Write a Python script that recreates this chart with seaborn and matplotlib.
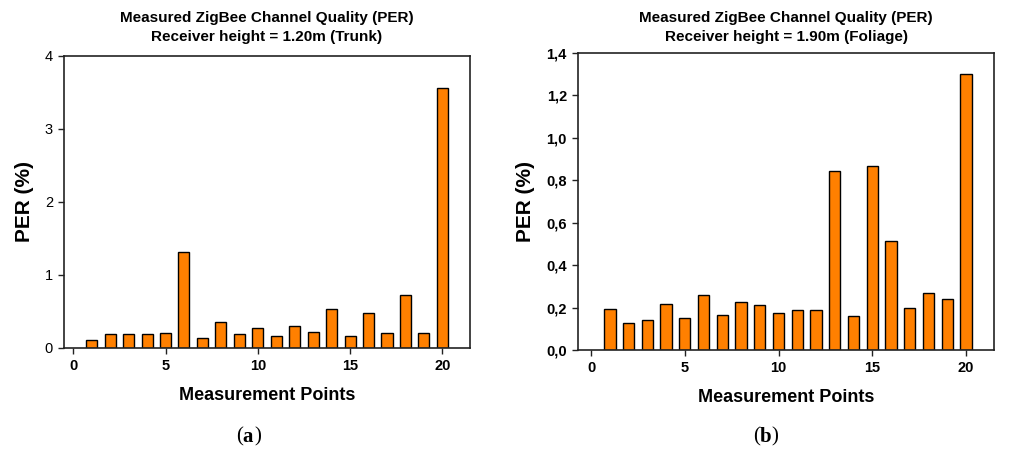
import matplotlib
matplotlib.use("Agg")
import matplotlib.pyplot as plt
import seaborn as sns
import pandas as pd
from matplotlib.ticker import FuncFormatter

points = list(range(1, 21))
per_trunk = [0.105, 0.187, 0.196, 0.187, 0.205, 1.317, 0.141, 0.351, 0.187, 0.269,
             0.164, 0.300, 0.219, 0.528, 0.164, 0.483, 0.205, 0.729, 0.205, 3.558]
per_foliage = [0.192, 0.129, 0.142, 0.219, 0.149, 0.258, 0.165, 0.228, 0.212, 0.173,
               0.187, 0.187, 0.846, 0.160, 0.865, 0.514, 0.198, 0.267, 0.241, 1.302]
titles = ["Measured ZigBee Channel Quality (PER)\nReceiver height = 1.20m (Trunk)",
          "Measured ZigBee Channel Quality (PER)\nReceiver height = 1.90m (Foliage)"]
captions = ["a", "b"]
x_ticks = [0, 5, 10, 15, 20]
y_ticks_a = [0, 1, 2, 3, 4]
y_ticks_b = [0.0, 0.2, 0.4, 0.6, 0.8, 1.0, 1.2, 1.4]

sns.set_style("white")
plt.rcParams['font.family'] = ['Liberation Sans', 'DejaVu Sans']
plt.rcParams['text.color'] = 'black'
plt.rcParams['axes.labelcolor'] = 'black'
plt.rcParams['xtick.color'] = 'black'
plt.rcParams['ytick.color'] = 'black'

fig = plt.figure(figsize=(10.24, 4.53), dpi=100)
ax1 = fig.add_axes([0.0625, 0.2318, 0.3965, 0.6446])
ax2 = fig.add_axes([0.5645, 0.2274, 0.4062, 0.6556])

df_a = pd.DataFrame({"point": points, "per": per_trunk})
df_b = pd.DataFrame({"point": points, "per": per_foliage})

for ax, df, title, yt, xl, bold_y, tpad in [
        (ax1, df_a, titles[0], y_ticks_a, (-0.5, 21.5), False, 11),
        (ax2, df_b, titles[1], y_ticks_b, (-0.7, 21.5), True, 9)]:
    sns.barplot(data=df, x="point", y="per", native_scale=True, width=0.6,
                color="#FF8000", saturation=1, edgecolor="black", linewidth=1.0, ax=ax)
    ax.set_xlim(*xl)
    ax.set_ylim(yt[0], yt[-1])
    ax.set_xticks(x_ticks)
    ax.set_yticks(yt)
    ax.set_title(title, fontsize=11, fontweight="bold", pad=tpad, linespacing=1.4,
                 color="black")
    ax.set_xlabel("Measurement Points", fontsize=13, fontweight="bold", labelpad=10)
    ax.set_ylabel("PER (%)", fontsize=15, fontweight="bold", labelpad=8)
    ax.tick_params(axis="both", direction="out", length=4, width=1, color="#222222",
                   labelsize=10.5, bottom=True, left=True, pad=4, labelcolor="black")
    for lab in ax.get_xticklabels():
        lab.set_fontweight("bold")
    for lab in ax.get_yticklabels():
        lab.set_fontweight("bold" if bold_y else "normal")
    for s in ax.spines.values():
        s.set_visible(True)
        s.set_color("#222222")
        s.set_linewidth(1.2)

ax2.yaxis.set_major_formatter(FuncFormatter(lambda v, p: f"{v:.1f}".replace(".", ",")))
for lab in ax2.get_yticklabels():
    lab.set_fontweight("bold")

for xc, cap in [(0.237, captions[0]), (0.742, captions[1])]:
    fig.text(xc, 0.025, "(", fontsize=15, family="Liberation Serif", ha="right", va="baseline")
    fig.text(xc, 0.025, cap, fontsize=15, family="Liberation Serif", fontweight="bold",
             ha="left", va="baseline")
    fig.text(xc + 0.0115, 0.025, ")", fontsize=15, family="Liberation Serif", ha="left", va="baseline")

fig.savefig("out.png", dpi=100, facecolor="white")
